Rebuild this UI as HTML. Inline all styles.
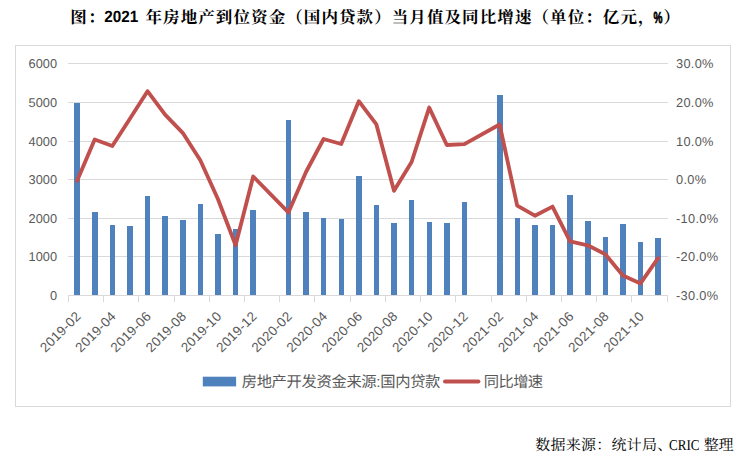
<!DOCTYPE html>
<html lang="zh-CN"><head><meta charset="utf-8"><title>图：2021 年房地产到位资金（国内贷款）当月值及同比增速</title>
<style>
html,body{margin:0;padding:0;background:#fff;}
body{width:749px;height:466px;overflow:hidden;position:relative;font-family:"Liberation Sans",sans-serif;}
svg{position:absolute;left:0;top:0;display:block;}
text{font-family:"Liberation Sans",sans-serif;text-rendering:geometricPrecision;}
.ax{font-size:12.8px;fill:#595959;}
</style></head><body>
<svg width="749" height="466" viewBox="0 0 749 466">
<rect x="0" y="0" width="749" height="466" fill="#ffffff"/>
<rect x="15.5" y="45.5" width="715" height="361" fill="#ffffff" stroke="#d9d9d9" stroke-width="1"/>
<g stroke="#d9d9d9" stroke-width="1" shape-rendering="crispEdges">
<line x1="68" x2="668" y1="63.5" y2="63.5"/>
<line x1="68" x2="668" y1="102.5" y2="102.5"/>
<line x1="68" x2="668" y1="141.5" y2="141.5"/>
<line x1="68" x2="668" y1="179.5" y2="179.5"/>
<line x1="68" x2="668" y1="218.5" y2="218.5"/>
<line x1="68" x2="668" y1="256.5" y2="256.5"/>
<line x1="68" x2="668" y1="295.5" y2="295.5"/>
<line x1="68.5" x2="68.5" y1="295" y2="302"/>
<line x1="103.5" x2="103.5" y1="295" y2="302"/>
<line x1="138.5" x2="138.5" y1="295" y2="302"/>
<line x1="174.5" x2="174.5" y1="295" y2="302"/>
<line x1="209.5" x2="209.5" y1="295" y2="302"/>
<line x1="244.5" x2="244.5" y1="295" y2="302"/>
<line x1="279.5" x2="279.5" y1="295" y2="302"/>
<line x1="314.5" x2="314.5" y1="295" y2="302"/>
<line x1="350.5" x2="350.5" y1="295" y2="302"/>
<line x1="385.5" x2="385.5" y1="295" y2="302"/>
<line x1="420.5" x2="420.5" y1="295" y2="302"/>
<line x1="455.5" x2="455.5" y1="295" y2="302"/>
<line x1="491.5" x2="491.5" y1="295" y2="302"/>
<line x1="526.5" x2="526.5" y1="295" y2="302"/>
<line x1="561.5" x2="561.5" y1="295" y2="302"/>
<line x1="596.5" x2="596.5" y1="295" y2="302"/>
<line x1="631.5" x2="631.5" y1="295" y2="302"/>
<line x1="667.5" x2="667.5" y1="295" y2="302"/>
</g>
<g fill="#4f81bd" shape-rendering="crispEdges">
<rect x="74" y="103" width="6" height="192"/>
<rect x="92" y="212" width="6" height="83"/>
<rect x="110" y="225" width="5" height="70"/>
<rect x="127" y="226" width="6" height="69"/>
<rect x="145" y="196" width="5" height="99"/>
<rect x="162" y="216" width="6" height="79"/>
<rect x="180" y="220" width="6" height="75"/>
<rect x="198" y="204" width="5" height="91"/>
<rect x="215" y="234" width="6" height="61"/>
<rect x="233" y="229" width="5" height="66"/>
<rect x="250" y="210" width="6" height="85"/>
<rect x="286" y="120" width="5" height="175"/>
<rect x="303" y="212" width="6" height="83"/>
<rect x="321" y="218" width="5" height="77"/>
<rect x="339" y="219" width="5" height="76"/>
<rect x="356" y="176" width="6" height="119"/>
<rect x="374" y="205" width="5" height="90"/>
<rect x="391" y="223" width="6" height="72"/>
<rect x="409" y="200" width="5" height="95"/>
<rect x="427" y="222" width="5" height="73"/>
<rect x="444" y="223" width="6" height="72"/>
<rect x="462" y="202" width="5" height="93"/>
<rect x="497" y="95" width="6" height="200"/>
<rect x="515" y="218" width="5" height="77"/>
<rect x="532" y="225" width="6" height="70"/>
<rect x="550" y="225" width="5" height="70"/>
<rect x="567" y="195" width="6" height="100"/>
<rect x="585" y="221" width="6" height="74"/>
<rect x="603" y="237" width="5" height="58"/>
<rect x="620" y="224" width="6" height="71"/>
<rect x="638" y="242" width="5" height="53"/>
<rect x="655" y="238" width="6" height="57"/>
</g>
<polyline fill="none" stroke="#c0504d" stroke-width="3.85" stroke-linejoin="round" stroke-linecap="round" points="77.1,180.8 94.7,139.5 112.3,146.0 129.9,118.8 147.5,91.2 165.1,114.7 182.7,132.8 200.3,160.3 217.9,199.0 235.6,245.2 253.2,176.5 288.4,212.4 306.0,172.0 323.6,139.0 341.2,144.0 358.8,101.2 376.4,124.4 394.0,190.8 411.6,162.0 429.2,107.6 446.8,145.0 464.4,144.1 499.6,124.5 517.2,205.6 534.9,215.7 552.5,206.6 570.1,241.4 587.7,245.3 605.3,254.2 622.9,275.4 640.5,283.4 658.1,258.2"/>
<g class="ax" text-anchor="end">
<text x="57" y="68.2" textLength="28.5">6000</text>
<text x="57" y="107.2" textLength="28.5">5000</text>
<text x="57" y="146.2" textLength="28.5">4000</text>
<text x="57" y="184.2" textLength="28.5">3000</text>
<text x="57" y="223.2" textLength="28.5">2000</text>
<text x="57" y="261.2" textLength="28.5">1000</text>
<text x="57" y="300.2" textLength="7.1">0</text>
</g>
<g class="ax">
<text x="676" y="68.2" textLength="37.5">30.0%</text>
<text x="676" y="107.2" textLength="37.5">20.0%</text>
<text x="676" y="146.2" textLength="37.5">10.0%</text>
<text x="676" y="184.2" textLength="30.2">0.0%</text>
<text x="676" y="223.2" textLength="42.1">-10.0%</text>
<text x="676" y="261.2" textLength="42.1">-20.0%</text>
<text x="676" y="300.2" textLength="42.1">-30.0%</text>
</g>
<g class="ax" text-anchor="end" style="font-size:13.4px">
<text transform="translate(81.4,317.2) rotate(-45)" textLength="50.6">2019-02</text>
<text transform="translate(116.6,317.2) rotate(-45)" textLength="50.6">2019-04</text>
<text transform="translate(151.8,317.2) rotate(-45)" textLength="50.6">2019-06</text>
<text transform="translate(187.0,317.2) rotate(-45)" textLength="50.6">2019-08</text>
<text transform="translate(222.2,317.2) rotate(-45)" textLength="50.6">2019-10</text>
<text transform="translate(257.5,317.2) rotate(-45)" textLength="50.6">2019-12</text>
<text transform="translate(292.7,317.2) rotate(-45)" textLength="50.6">2020-02</text>
<text transform="translate(327.9,317.2) rotate(-45)" textLength="50.6">2020-04</text>
<text transform="translate(363.1,317.2) rotate(-45)" textLength="50.6">2020-06</text>
<text transform="translate(398.3,317.2) rotate(-45)" textLength="50.6">2020-08</text>
<text transform="translate(433.5,317.2) rotate(-45)" textLength="50.6">2020-10</text>
<text transform="translate(468.7,317.2) rotate(-45)" textLength="50.6">2020-12</text>
<text transform="translate(503.9,317.2) rotate(-45)" textLength="50.6">2021-02</text>
<text transform="translate(539.2,317.2) rotate(-45)" textLength="50.6">2021-04</text>
<text transform="translate(574.4,317.2) rotate(-45)" textLength="50.6">2021-06</text>
<text transform="translate(609.6,317.2) rotate(-45)" textLength="50.6">2021-08</text>
<text transform="translate(644.8,317.2) rotate(-45)" textLength="50.6">2021-10</text>
</g>
<rect x="202.8" y="376.7" width="33.3" height="9.7" fill="#4f81bd"/>
<line x1="445" x2="478.4" y1="381.6" y2="381.6" stroke="#c0504d" stroke-width="4" stroke-linecap="round"/>
<g fill="#000000" font-size="16.5" font-weight="bold" style="font-family:'Liberation Serif','Noto Serif CJK SC',serif">
<text x="70.2" y="22.8" textLength="34.2" lengthAdjust="spacing" style="font-family:'Liberation Serif','Noto Serif CJK SC',serif">图：</text>
<text x="145.5" y="22.8" textLength="509" lengthAdjust="spacing" style="font-family:'Liberation Serif','Noto Serif CJK SC',serif">年房地产到位资金（国内贷款）当月值及同比增速（单位：亿元，</text>
<text x="663.5" y="22.8" style="font-family:'Liberation Serif','Noto Serif CJK SC',serif">）</text>
</g>
<text x="104.2" y="22.1" font-size="16.3" font-weight="bold" fill="#000" textLength="34" lengthAdjust="spacingAndGlyphs">2021</text>
<text x="653.6" y="22.7" font-size="16" font-weight="bold" fill="#000" stroke="#000" stroke-width="0.7" textLength="9" lengthAdjust="spacingAndGlyphs">%</text>
<g fill="#595959" font-size="15.3">
<text x="241.7" y="386.7" textLength="198.7" lengthAdjust="spacing" style="font-family:'Liberation Sans','Noto Sans CJK SC',sans-serif">房地产开发资金来源:国内贷款</text>
<text x="483.75" y="386.7" textLength="59.4" lengthAdjust="spacing" style="font-family:'Liberation Sans','Noto Sans CJK SC',sans-serif">同比增速</text>
</g>
<g fill="#000000" font-size="15">
<text x="535.2" y="449.6" textLength="137" lengthAdjust="spacing" style="font-family:'Liberation Serif','Noto Serif CJK SC',serif">数据来源：统计局、</text>
<text x="703.8" y="449.6" textLength="29.6" lengthAdjust="spacing" style="font-family:'Liberation Serif','Noto Serif CJK SC',serif">整理</text>
</g>
<text x="669" y="449.9" font-size="15" fill="#000" style="font-family:'Liberation Serif',serif" textLength="30.5" lengthAdjust="spacingAndGlyphs">CRIC</text>
</svg>
</body></html>
